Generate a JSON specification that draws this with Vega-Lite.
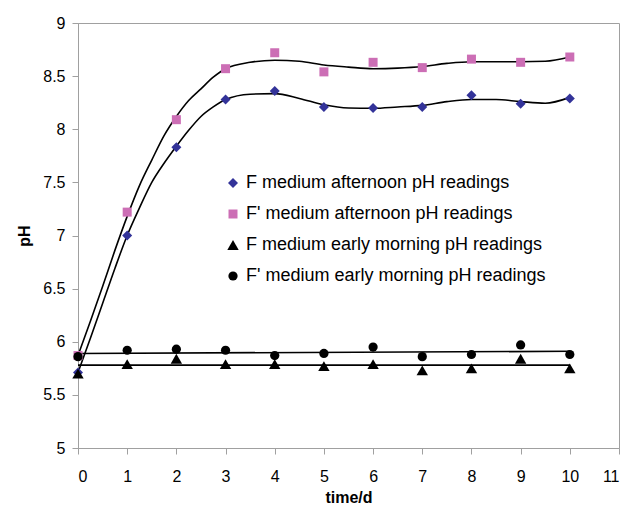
{
  "$schema": "https://vega.github.io/schema/vega-lite/v6.json",
  "width": 541,
  "height": 425,
  "autosize": {"type": "none"},
  "padding": {"left": 78, "top": 23, "right": 10, "bottom": 64},
  "background": "white",
  "config": {
    "font": "Liberation Sans",
    "view": {"stroke": "#a0a0a0", "strokeWidth": 1},
    "axis": {
      "grid": false,
      "domainColor": "#a0a0a0",
      "tickColor": "#a0a0a0",
      "tickSize": 6,
      "labelFont": "Liberation Sans",
      "labelFontSize": 16,
      "labelColor": "#000000",
      "titleFont": "Liberation Sans",
      "titleFontSize": 16,
      "titleFontWeight": "bold",
      "titleColor": "#000000"
    }
  },
  "datasets": {
    "pts": [
      {"series": "F medium afternoon pH readings", "t": 0, "ph": 5.71},
      {"series": "F medium afternoon pH readings", "t": 1, "ph": 7.0},
      {"series": "F medium afternoon pH readings", "t": 2, "ph": 7.83},
      {"series": "F medium afternoon pH readings", "t": 3, "ph": 8.28},
      {"series": "F medium afternoon pH readings", "t": 4, "ph": 8.36},
      {"series": "F medium afternoon pH readings", "t": 5, "ph": 8.21},
      {"series": "F medium afternoon pH readings", "t": 6, "ph": 8.2},
      {"series": "F medium afternoon pH readings", "t": 7, "ph": 8.21},
      {"series": "F medium afternoon pH readings", "t": 8, "ph": 8.32},
      {"series": "F medium afternoon pH readings", "t": 9, "ph": 8.24},
      {"series": "F medium afternoon pH readings", "t": 10, "ph": 8.29},
      {"series": "F' medium afternoon pH readings", "t": 0, "ph": 5.87},
      {"series": "F' medium afternoon pH readings", "t": 1, "ph": 7.22},
      {"series": "F' medium afternoon pH readings", "t": 2, "ph": 8.09},
      {"series": "F' medium afternoon pH readings", "t": 3, "ph": 8.57},
      {"series": "F' medium afternoon pH readings", "t": 4, "ph": 8.72},
      {"series": "F' medium afternoon pH readings", "t": 5, "ph": 8.54},
      {"series": "F' medium afternoon pH readings", "t": 6, "ph": 8.63},
      {"series": "F' medium afternoon pH readings", "t": 7, "ph": 8.58},
      {"series": "F' medium afternoon pH readings", "t": 8, "ph": 8.66},
      {"series": "F' medium afternoon pH readings", "t": 9, "ph": 8.63},
      {"series": "F' medium afternoon pH readings", "t": 10, "ph": 8.68},
      {"series": "F medium early morning pH readings", "t": 0, "ph": 5.70},
      {"series": "F medium early morning pH readings", "t": 1, "ph": 5.79},
      {"series": "F medium early morning pH readings", "t": 2, "ph": 5.84},
      {"series": "F medium early morning pH readings", "t": 3, "ph": 5.79},
      {"series": "F medium early morning pH readings", "t": 4, "ph": 5.79},
      {"series": "F medium early morning pH readings", "t": 5, "ph": 5.77},
      {"series": "F medium early morning pH readings", "t": 6, "ph": 5.79},
      {"series": "F medium early morning pH readings", "t": 7, "ph": 5.73},
      {"series": "F medium early morning pH readings", "t": 8, "ph": 5.75},
      {"series": "F medium early morning pH readings", "t": 9, "ph": 5.84},
      {"series": "F medium early morning pH readings", "t": 10, "ph": 5.75},
      {"series": "F' medium early morning pH readings", "t": 0, "ph": 5.86},
      {"series": "F' medium early morning pH readings", "t": 1, "ph": 5.92},
      {"series": "F' medium early morning pH readings", "t": 2, "ph": 5.93},
      {"series": "F' medium early morning pH readings", "t": 3, "ph": 5.92},
      {"series": "F' medium early morning pH readings", "t": 4, "ph": 5.87},
      {"series": "F' medium early morning pH readings", "t": 5, "ph": 5.89},
      {"series": "F' medium early morning pH readings", "t": 6, "ph": 5.95},
      {"series": "F' medium early morning pH readings", "t": 7, "ph": 5.86},
      {"series": "F' medium early morning pH readings", "t": 8, "ph": 5.88},
      {"series": "F' medium early morning pH readings", "t": 9, "ph": 5.97},
      {"series": "F' medium early morning pH readings", "t": 10, "ph": 5.88}
    ],
    "curves": [
      {"curve": "Fp_aft", "t": 0, "ph": 5.87},
      {"curve": "Fp_aft", "t": 0.25, "ph": 6.19},
      {"curve": "Fp_aft", "t": 0.5, "ph": 6.52},
      {"curve": "Fp_aft", "t": 0.75, "ph": 6.86},
      {"curve": "Fp_aft", "t": 1, "ph": 7.18},
      {"curve": "Fp_aft", "t": 1.25, "ph": 7.47},
      {"curve": "Fp_aft", "t": 1.5, "ph": 7.71},
      {"curve": "Fp_aft", "t": 1.75, "ph": 7.94},
      {"curve": "Fp_aft", "t": 2, "ph": 8.12},
      {"curve": "Fp_aft", "t": 2.25, "ph": 8.27},
      {"curve": "Fp_aft", "t": 2.5, "ph": 8.38},
      {"curve": "Fp_aft", "t": 2.75, "ph": 8.49},
      {"curve": "Fp_aft", "t": 3, "ph": 8.57},
      {"curve": "Fp_aft", "t": 3.5, "ph": 8.63},
      {"curve": "Fp_aft", "t": 4, "ph": 8.65},
      {"curve": "Fp_aft", "t": 4.5, "ph": 8.64},
      {"curve": "Fp_aft", "t": 5, "ph": 8.605},
      {"curve": "Fp_aft", "t": 5.5, "ph": 8.585},
      {"curve": "Fp_aft", "t": 6, "ph": 8.57},
      {"curve": "Fp_aft", "t": 6.5, "ph": 8.575},
      {"curve": "Fp_aft", "t": 7, "ph": 8.59},
      {"curve": "Fp_aft", "t": 7.5, "ph": 8.62},
      {"curve": "Fp_aft", "t": 8, "ph": 8.636},
      {"curve": "Fp_aft", "t": 8.5, "ph": 8.636},
      {"curve": "Fp_aft", "t": 9, "ph": 8.636},
      {"curve": "Fp_aft", "t": 9.5, "ph": 8.64},
      {"curve": "Fp_aft", "t": 10, "ph": 8.68},
      {"curve": "F_aft", "t": 0, "ph": 5.71},
      {"curve": "F_aft", "t": 0.25, "ph": 6.03},
      {"curve": "F_aft", "t": 0.5, "ph": 6.36},
      {"curve": "F_aft", "t": 0.75, "ph": 6.69},
      {"curve": "F_aft", "t": 1, "ph": 7.0},
      {"curve": "F_aft", "t": 1.25, "ph": 7.26},
      {"curve": "F_aft", "t": 1.5, "ph": 7.5},
      {"curve": "F_aft", "t": 1.75, "ph": 7.68},
      {"curve": "F_aft", "t": 2, "ph": 7.84},
      {"curve": "F_aft", "t": 2.25, "ph": 7.99},
      {"curve": "F_aft", "t": 2.5, "ph": 8.12},
      {"curve": "F_aft", "t": 2.75, "ph": 8.21},
      {"curve": "F_aft", "t": 3, "ph": 8.28},
      {"curve": "F_aft", "t": 3.5, "ph": 8.33},
      {"curve": "F_aft", "t": 4, "ph": 8.335},
      {"curve": "F_aft", "t": 4.5, "ph": 8.29},
      {"curve": "F_aft", "t": 5, "ph": 8.23},
      {"curve": "F_aft", "t": 5.5, "ph": 8.2},
      {"curve": "F_aft", "t": 6, "ph": 8.197},
      {"curve": "F_aft", "t": 6.5, "ph": 8.21},
      {"curve": "F_aft", "t": 7, "ph": 8.225},
      {"curve": "F_aft", "t": 7.5, "ph": 8.26},
      {"curve": "F_aft", "t": 8, "ph": 8.28},
      {"curve": "F_aft", "t": 8.5, "ph": 8.28},
      {"curve": "F_aft", "t": 9, "ph": 8.26},
      {"curve": "F_aft", "t": 9.5, "ph": 8.245},
      {"curve": "F_aft", "t": 10, "ph": 8.3},
      {"curve": "F_morn", "t": 0, "ph": 5.78},
      {"curve": "F_morn", "t": 10, "ph": 5.78},
      {"curve": "Fp_morn", "t": 0, "ph": 5.89},
      {"curve": "Fp_morn", "t": 10, "ph": 5.91}
    ]
  },
  "layer": [
    {
      "data": {"name": "curves"},
      "mark": {"type": "line", "color": "#000000", "strokeWidth": 1.6, "interpolate": "monotone"},
      "encoding": {
        "x": {"field": "t", "type": "quantitative"},
        "y": {"field": "ph", "type": "quantitative"},
        "detail": {"field": "curve"}
      }
    },
    {
      "data": {"name": "pts"},
      "mark": {"type": "point", "filled": true, "opacity": 1},
      "encoding": {
        "x": {
          "field": "t", "type": "quantitative",
          "scale": {"domain": [0, 11], "nice": false, "zero": false},
          "axis": {"values": [0,1,2,3,4,5,6,7,8,9,10,11], "format": "d", "title": "time/d", "titlePadding": 5, "labelPadding": 14}
        },
        "y": {
          "field": "ph", "type": "quantitative",
          "scale": {"domain": [5, 9], "nice": false, "zero": false},
          "axis": {"values": [5,5.5,6,6.5,7,7.5,8,8.5,9], "format": "~g", "title": "pH", "titlePadding": 10, "labelPadding": 7}
        },
        "size": {
          "field": "series", "type": "nominal",
          "scale": {
            "type": "ordinal",
            "domain": ["F medium afternoon pH readings", "F' medium afternoon pH readings", "F medium early morning pH readings", "F' medium early morning pH readings"],
            "range": [100, 81, 130, 85]
          },
          "legend": null
        },
        "color": {
          "field": "series", "type": "nominal",
          "scale": {
            "domain": ["F medium afternoon pH readings", "F' medium afternoon pH readings", "F medium early morning pH readings", "F' medium early morning pH readings"],
            "range": ["#333399", "#cc6eb5", "#000000", "#000000"]
          },
          "legend": {
            "title": null, "orient": "none", "legendX": 146, "legendY": 151,
            "labelFont": "Liberation Sans", "labelFontSize": 18, "labelColor": "#000000", "labelLimit": 0,
            "rowPadding": 13, "symbolSize": 50, "labelOffset": 4, "symbolStrokeWidth": 0
          }
        },
        "shape": {
          "field": "series", "type": "nominal",
          "scale": {
            "domain": ["F medium afternoon pH readings", "F' medium afternoon pH readings", "F medium early morning pH readings", "F' medium early morning pH readings"],
            "range": ["diamond", "square", "triangle-up", "circle"]
          },
          "legend": {
            "title": null, "orient": "none", "legendX": 146, "legendY": 151,
            "labelFont": "Liberation Sans", "labelFontSize": 18, "labelColor": "#000000", "labelLimit": 0,
            "rowPadding": 13, "symbolSize": 50, "labelOffset": 4, "symbolStrokeWidth": 0
          }
        }
      }
    }
  ]
}
